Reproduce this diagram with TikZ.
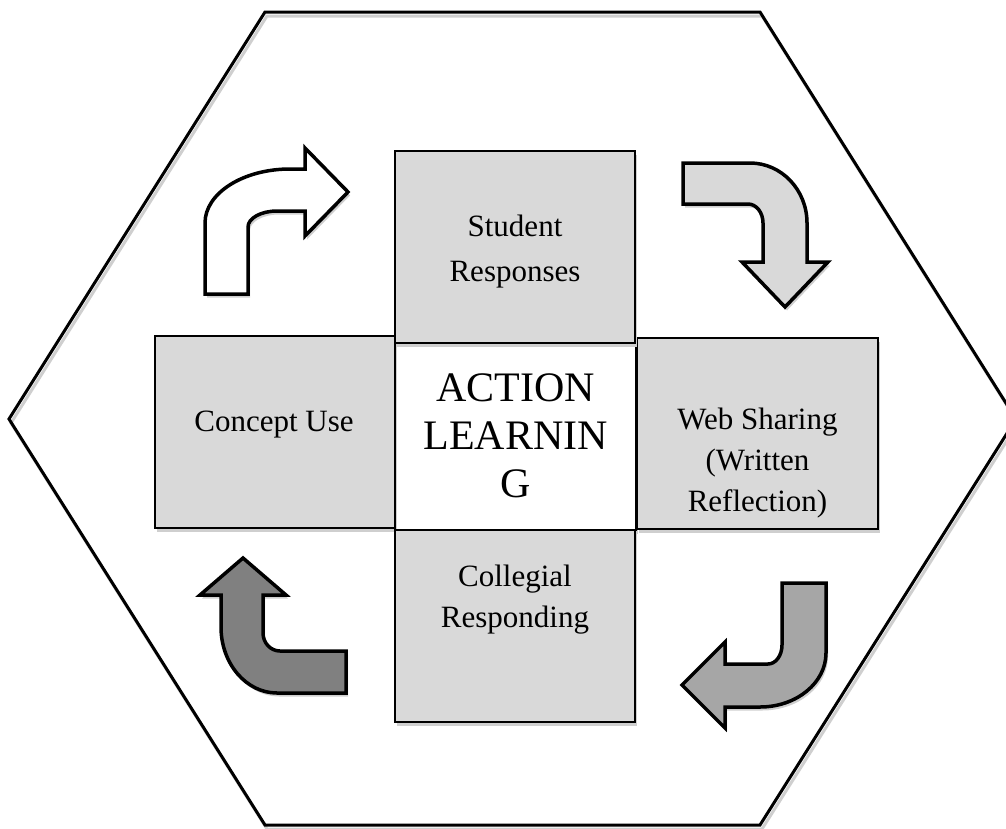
\documentclass[tikz,border=0pt]{standalone}
\usepackage{fontspec}
\setmainfont{Liberation Serif}
\usetikzlibrary{shadows}
\definecolor{boxgray}{HTML}{D9D9D9}
\definecolor{arrowlight}{HTML}{D9D9D9}
\definecolor{arrowmid}{HTML}{A6A6A6}
\definecolor{arrowdark}{HTML}{808080}
\definecolor{shadowgray}{HTML}{CFCFCF}
\begin{document}
\begin{tikzpicture}[x=1pt,y=-1pt,
  sh/.style={drop shadow={shadow xshift=2pt,shadow yshift=-3.5pt,fill=shadowgray,opacity=1}},
  box/.style={draw=black,line width=2pt,fill=boxgray,inner sep=0pt,sh},
  bentarrow/.style={draw=black,line width=3.5pt,line join=miter,sh},
  lbl/.style={font=\fontsize{31}{41}\selectfont,align=center,inner sep=0pt},
  biglbl/.style={font=\fontsize{42}{48}\selectfont,align=center,inner sep=0pt}]
\useasboundingbox (0,0) rectangle (1006,828);
\clip (0,0) rectangle (1006,828);
% hexagon with shadow outline
\draw[shadowgray,line width=3pt,line join=miter,transform canvas={shift={(2pt,-4pt)}}]
  (9,419) -- (265,12) -- (760,12) -- (1016,419) -- (760,825) -- (265,825) -- cycle;
\draw[black,line width=3pt,line join=miter]
  (9,419) -- (265,12) -- (760,12) -- (1016,419) -- (760,825) -- (265,825) -- cycle;
% boxes
\node[box,fill=white,minimum width=241pt,minimum height=187pt] (center) at (515.5,436.5) {};
\node[box,minimum width=240pt,minimum height=192pt] (left) at (275,432) {};
\node[box,minimum width=241pt,minimum height=191pt] (right) at (757.5,433.5) {};
\node[box,minimum width=240pt,minimum height=192pt] (top) at (515,247) {};
\node[box,minimum width=240pt,minimum height=192pt] (bottom) at (515,626) {};
% texts
\node[lbl] (topT) at (515,251.5) {Student\\[4pt]Responses};
\node[lbl] (leftT) at (274,425) {Concept Use};
\node[lbl] (rightT) at (757.5,463) {Web Sharing\\(Written\\Reflection)};
\node[lbl] (bottomT) at (515,600) {Collegial\\Responding};
\node[biglbl] (centerT) at (515.5,436) {ACTION\\LEARNIN\\G};
% arrow top-left (white)
\path[bentarrow,fill=white]
  (205,294) -- (205,223) .. controls (205,193.2) and (243.1,169) .. (290,169)
  -- (305,169) -- (305,148) -- (348,192) -- (305,236) -- (305,211) -- (277,211)
  .. controls (261,211) and (248,218.2) .. (248,227) -- (248,294) -- cycle;
% arrow top-right (light gray)
\path[bentarrow,fill=arrowlight]
  (683,163) -- (750,163) .. controls (781.5,163) and (807,189.9) .. (807,223)
  -- (807,262) -- (828,262) -- (785,307) -- (742,262) -- (763,262) -- (763,223)
  .. controls (763,212.5) and (756.3,204) .. (748,204) -- (683,204) -- cycle;
% arrow bottom-right (mid gray)
\path[bentarrow,fill=arrowmid]
  (782,583) -- (826,583) -- (826,653) .. controls (826,682.8) and (796.5,707) .. (760,707)
  -- (725,707) -- (725,728) -- (682,685) -- (725,642) -- (725,664) -- (768,664)
  .. controls (775.7,664) and (782,655.5) .. (782,645) -- cycle;
% arrow bottom-left (dark gray)
\path[bentarrow,fill=arrowdark]
  (243,558) -- (286,595) -- (263,595) -- (263,633)
  .. controls (263,642.9) and (270.6,651) .. (280,651) -- (346,651) -- (346,693)
  -- (277,693) .. controls (246.1,693) and (221,663.5) .. (221,627) -- (221,595)
  -- (200,595) -- cycle;
\end{tikzpicture}
\end{document}
